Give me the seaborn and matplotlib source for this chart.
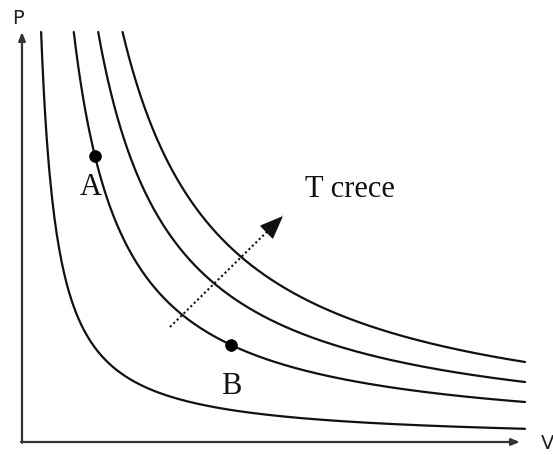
import numpy as np
import pandas as pd
import matplotlib
matplotlib.use("Agg")
import matplotlib.pyplot as plt
import seaborn as sns

# isotermas P = k / V  (k ~ nRT)
k_isotermas = [3.3, 10.0, 15.0, 20.0]
P_max = 10.25
V_fin = 10.0

# puntos A y B sobre la segunda isoterma
puntos_nombre = ['A', 'B']
puntos_V = [1.40, 4.12]
k_puntos = 10.0

# flecha "T crece"
flecha_V = [2.9, 5.16]
flecha_P = [2.875, 5.65]

sns.set_style('white')

# construir tabla de las curvas
filas = []
for i, k in enumerate(k_isotermas):
    V = np.linspace(k / P_max, V_fin, 400)
    filas.append(pd.DataFrame({'V': V, 'P': k / V, 'T': f'T{i}'}))
df = pd.concat(filas, ignore_index=True)

fig = plt.figure(figsize=(5.53, 4.56), dpi=100)
ax = fig.add_axes([0, 0, 1, 1])

sns.lineplot(data=df, x='V', y='P', hue='T', units='T', estimator=None,
             palette=['#111111'] * 4, linewidth=1.6, legend=False, ax=ax,
             sort=False)

# puntos A y B
pts = pd.DataFrame({'V': puntos_V, 'P': [k_puntos / v for v in puntos_V]})
sns.scatterplot(data=pts, x='V', y='P', color='black', s=70, zorder=5,
                edgecolor='black', ax=ax)

ax.set_xlim(-0.5, 10.56)
ax.set_ylim(-0.325, 11.075)
ax.axis('off')

# ejes con flechas
eje = dict(arrowstyle='-|>,head_length=0.5,head_width=0.2', color='#333333',
           lw=1.6, shrinkA=0, shrinkB=0)
ax.annotate('', xy=(-0.06, 10.25), xytext=(-0.06, -0.02), arrowprops=eje)
ax.annotate('', xy=(9.9, 0), xytext=(-0.08, 0), arrowprops=eje)
ax.text(-0.14, 10.6, 'P', fontsize=14, family='DejaVu Sans', ha='center',
        va='center', color='#222222')
ax.text(10.45, -0.02, 'V', fontsize=14, family='DejaVu Sans', ha='center',
        va='center', color='#222222')

# flecha punteada: linea de puntos + punta solida
ax.plot(flecha_V, flecha_P, color='#111111', lw=1.5, linestyle=(0, (1, 1.3)))
dv = flecha_V[1] - flecha_V[0]
dp = flecha_P[1] - flecha_P[0]
ax.annotate('', xy=(flecha_V[1], flecha_P[1]),
            xytext=(flecha_V[1] - 0.05 * dv, flecha_P[1] - 0.05 * dp),
            arrowprops=dict(arrowstyle='-|>,head_length=0.75,head_width=0.3',
                            mutation_scale=20, color='#111111', lw=1,
                            shrinkA=0, shrinkB=0))

serif = ['Liberation Serif', 'DejaVu Serif']
ax.text(5.6, 6.15, 'T crece', fontsize=22, family=serif, ha='left',
        va='baseline', color='#111111')
ax.text(1.32, 6.375, puntos_nombre[0], fontsize=22, family=serif,
        ha='center', va='center', color='#111111')
ax.text(4.12, 1.4, puntos_nombre[1], fontsize=22, family=serif,
        ha='center', va='center', color='#111111')

fig.savefig('out.png', dpi=100)
